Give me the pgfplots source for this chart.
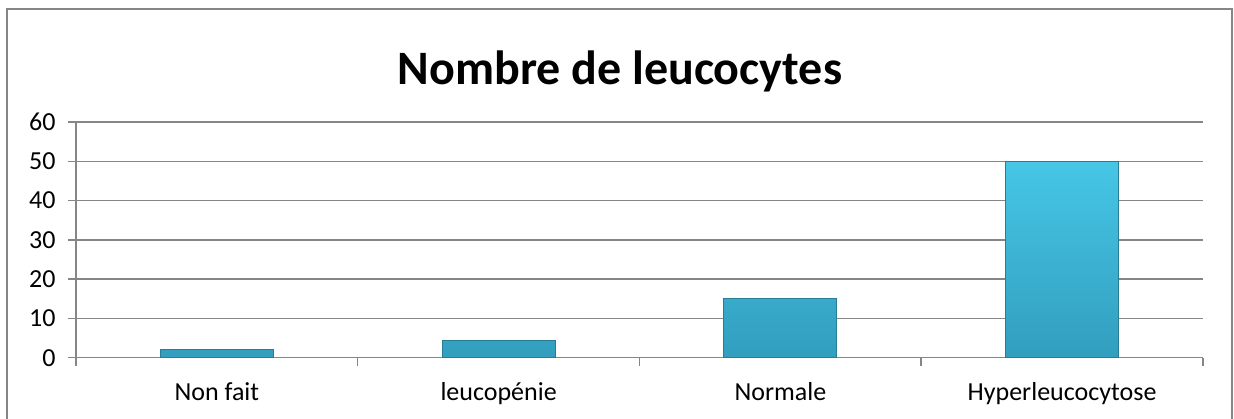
\documentclass[border=0pt]{standalone}
\usepackage{fontspec}
\setmainfont{Carlito}
\usepackage{pgfplots}
\pgfplotsset{compat=1.18}
\definecolor{gridgray}{RGB}{134,134,134}
\definecolor{bartop}{RGB}{70,198,230}
\definecolor{barbot}{RGB}{50,158,190}
\definecolor{baredge}{RGB}{40,125,150}
\begin{document}
\begin{tikzpicture}[x=1pt,y=1pt]
\path[use as bounding box] (0,0) rectangle (1234,419);
\draw[gridgray, line width=1.5pt] (7,-5) -- (7,410) -- (1232,410) -- (1232,-5);
\node[anchor=base, font=\fontsize{48}{56}\selectfont\bfseries] at (620,334) {Nombre de leucocytes};
\begin{axis}[
  at={(76pt,61.3pt)}, anchor=south west,
  scale only axis, width=1127pt, height=235.7pt,
  xmin=-0.5, xmax=3.5, ymin=0, ymax=60,
  ytick={0,10,...,60},
  xtick={-0.5,0.5,1.5,2.5,3.5}, xticklabel={\mbox{}},
  extra x ticks={0,1,2,3},
  extra x tick labels={Non fait,leucopénie,Normale,Hyperleucocytose},
  extra x tick style={major tick length=0pt},
  axis lines*=left,
  axis line style={gridgray, line width=1.5pt},
  tick style={gridgray, line width=1.5pt},
  tick align=outside, major tick length=8pt,
  ymajorgrids, grid style={gridgray, line width=1.5pt},
  ticklabel style={font=\fontsize{26}{30}\selectfont},
  /pgf/number format/assume math mode=true,
  yticklabel style={xshift=-9pt},
  xticklabel style={yshift=-21pt},
]
\addplot[ybar, bar width=113pt, top color=bartop, bottom color=barbot, draw=baredge, line width=0.8pt]
  coordinates {(0,2) (1,4.4) (2,15) (3,50)};
\end{axis}
\end{tikzpicture}
\end{document}
